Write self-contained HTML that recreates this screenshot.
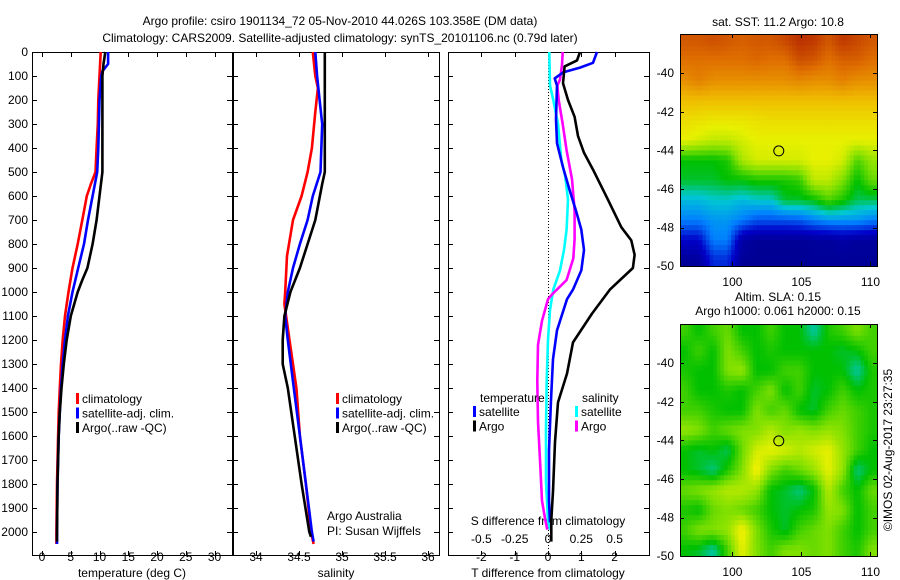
<!DOCTYPE html>
<html><head><meta charset="utf-8"><style>
body{margin:0;background:#fff}
svg{display:block;font-family:"Liberation Sans",sans-serif;font-size:12px}
</style></head><body>
<svg id="s" width="900" height="580" viewBox="0 0 900 580" xmlns="http://www.w3.org/2000/svg">
<defs>
<clipPath id="c1"><rect x="680" y="34" width="197" height="232"/></clipPath>
<clipPath id="c2"><rect x="680" y="324" width="197" height="232"/></clipPath>
</defs>
<text x="340" y="25" text-anchor="middle">Argo profile: csiro 1901134_72 05-Nov-2010 44.026S 103.358E (DM data)</text>
<text x="340" y="42" text-anchor="middle">Climatology: CARS2009. Satellite-adjusted climatology: synTS_20101106.nc (0.79d later)</text>
<text x="778" y="26" text-anchor="middle">sat. SST: 11.2 Argo: 10.8</text>
<text x="778" y="301" text-anchor="middle">Altim. SLA: 0.15</text>
<text x="778" y="315" text-anchor="middle">Argo h1000: 0.061 h2000: 0.15</text>
<text transform="translate(892,450) rotate(-90)" text-anchor="middle">©IMOS 02-Aug-2017 23:27:35</text>
<g id="g"></g>
</svg>
<script>
// ---- data ----
const depthTicks=[0,100,200,300,400,500,600,700,800,900,1000,1100,1200,1300,1400,1500,1600,1700,1800,1900,2000];
const tTicks=[0,5,10,15,20,25,30];
const sTicks=[34,34.5,35,35.5,36];
const tdTicks=[-2,-1,0,1,2];
const sdTicks=[-0.5,-0.25,0,0.25,0.5];
const sdTickLabels=["-0.5","-0.25","0","0.25","0.5"];
const tClimDepth=[0,100,200,300,400,500,550,600,700,800,900,1000,1100,1200,1300,1400,1500,1600,1800,2000,2050];
const tClim=[10.2,10.0,9.8,9.7,9.5,9.3,8.5,7.8,7.0,6.2,5.3,4.6,4.0,3.6,3.3,3.1,2.9,2.8,2.6,2.5,2.5];
const tSatDepth=[0,50,80,100,200,300,400,500,600,700,800,900,1000,1100,1200,1300,1400,1500,1600,1800,2000,2050];
const tSat=[11.5,11.5,10.5,10.3,10.0,9.9,9.8,9.6,8.8,8.0,7.3,6.3,5.3,4.5,4.0,3.6,3.3,3.1,2.9,2.7,2.6,2.6];
const tArgoDepth=[0,50,100,200,300,400,500,600,700,800,900,950,1000,1100,1200,1300,1400,1500,1600,1800,2000,2040];
const tArgo=[11.0,10.7,10.5,10.5,10.5,10.5,10.5,10.0,9.5,8.8,7.9,7.0,6.2,5.0,4.3,3.8,3.4,3.1,2.9,2.7,2.6,2.6];
const sClimDepth=[0,100,150,250,400,500,600,700,850,1000,1050,1200,1400,1600,1800,2000,2050];
const sClim=[34.66,34.69,34.72,34.69,34.65,34.6,34.53,34.43,34.36,34.34,34.33,34.39,34.47,34.51,34.58,34.64,34.67];
const sSatDepth=[0,100,200,300,500,600,700,800,900,1000,1100,1200,1400,1600,1800,2000,2040];
const sSat=[34.69,34.71,34.74,34.77,34.75,34.66,34.6,34.51,34.43,34.37,34.34,34.37,34.44,34.51,34.58,34.65,34.67];
const sArgoDepth=[0,300,500,550,700,800,900,1000,1100,1200,1300,1400,1600,1800,2000,2020];
const sArgo=[34.8,34.8,34.8,34.77,34.69,34.6,34.51,34.4,34.33,34.31,34.31,34.37,34.45,34.53,34.62,34.64];
const dTArgoDepth=[0,35,60,130,200,270,350,420,490,615,730,785,845,900,990,1090,1210,1340,1460,1625,1830,1950,2040];
const dTArgo=[0.96,0.87,0.5,0.45,0.6,0.8,0.9,1.08,1.35,1.8,2.2,2.5,2.6,2.55,1.86,1.32,0.75,0.57,0.3,0.21,0.15,0.1,0.1];
const dTSatDepth=[0,45,65,85,110,140,280,380,480,575,670,740,825,910,990,1030,1160,1280,1450,1660,1870,1960];
const dTSat=[1.47,1.35,0.96,0.45,0.2,0.27,0.24,0.27,0.45,0.65,0.86,1.0,1.08,1.0,0.75,0.57,0.27,0.15,0.09,0.03,0.03,0.06];
const dSSatDepth=[0,140,200,300,450,520,615,740,825,910,990,1075,1200,1370,1580,1790,1950,1990];
const dSSat=[0.01,0.015,0.04,0.075,0.1,0.13,0.15,0.14,0.12,0.09,0.04,0.015,0,-0.01,-0.015,-0.015,0,0.015];
const dSArgoDepth=[0,55,115,140,200,300,410,530,660,780,860,950,1010,1030,1120,1220,1370,1540,1700,1870,1950,1990];
const dSArgo=[0.11,0.105,0.09,0.07,0.08,0.11,0.14,0.18,0.2,0.2,0.19,0.14,0.03,0,-0.045,-0.075,-0.08,-0.075,-0.06,-0.045,-0.02,-0.005];
const lonTicks=[100,105,110];
const latTicks=[-40,-42,-44,-46,-48,-50];
const sstGrid=[
[.93,.93,.94,.93,.92,.93,.93,.95,.98,.97,.93,.97,.95,.93],
[.9,.9,.9,.9,.9,.91,.9,.9,.94,.93,.9,.92,.92,.9],
[.86,.88,.86,.86,.86,.86,.86,.86,.87,.86,.86,.88,.86,.86],
[.8,.8,.8,.8,.8,.8,.8,.8,.8,.8,.8,.8,.8,.8],
[.74,.73,.72,.72,.72,.73,.74,.74,.74,.74,.74,.74,.74,.74],
[.7,.68,.66,.66,.68,.7,.7,.7,.7,.7,.7,.7,.7,.7],
[.5,.5,.5,.52,.64,.68,.68,.68,.68,.7,.7,.68,.56,.62],
[.48,.48,.48,.5,.5,.52,.52,.52,.54,.66,.66,.6,.5,.58],
[.38,.38,.4,.4,.38,.4,.4,.48,.48,.5,.56,.52,.46,.46],
[.3,.3,.33,.33,.3,.25,.25,.25,.26,.3,.33,.33,.33,.3],
[.15,.15,.3,.3,.08,.05,.05,.05,.05,.06,.06,.08,.06,.06],
[.05,.06,.2,.2,.05,.04,.04,.04,.04,.05,.05,.05,.05,.05]];
const slaGrid=[
[.55,.5,.55,.58,.5,.5,.55,.5,.5,.42,.52,.55,.6,.55],
[.5,.55,.5,.6,.55,.5,.52,.5,.5,.5,.5,.48,.5,.55],
[.52,.5,.5,.6,.62,.5,.5,.55,.55,.5,.5,.5,.42,.52],
[.55,.5,.5,.52,.5,.55,.6,.5,.55,.48,.5,.55,.5,.52],
[.55,.55,.52,.5,.5,.6,.55,.58,.5,.48,.55,.58,.55,.52],
[.62,.6,.55,.58,.6,.6,.65,.6,.62,.6,.62,.6,.55,.52],
[.5,.48,.5,.46,.58,.68,.7,.68,.65,.68,.7,.62,.55,.5],
[.5,.48,.44,.52,.6,.72,.6,.55,.58,.62,.7,.62,.44,.5],
[.58,.6,.62,.65,.65,.62,.5,.48,.44,.5,.65,.55,.5,.58],
[.52,.5,.58,.6,.58,.55,.5,.48,.5,.52,.62,.6,.5,.55],
[.55,.6,.6,.62,.72,.6,.52,.48,.55,.58,.6,.55,.5,.55],
[.5,.48,.42,.55,.7,.6,.55,.6,.6,.58,.6,.55,.52,.6]];
const argoLon=103.358, argoLat=-44.026;

// ---- scales ----
const yD=d=>52+d*0.24;
const xT=t=>42+t*5.75;
const xS=s=>256+(s-34)*86;
const xTd=v=>548+v*33.3;
const xSd=v=>548+v*133.2;
const xLon=l=>680+(l-96.2)*13.8;
const yLat1=l=>34+(-37.97-l)*19.3;
const yLat2=l=>324+(-37.97-l)*19.3;

const NS="http://www.w3.org/2000/svg", G=document.getElementById('g');
function mk(tag,at,parent){const e=document.createElementNS(NS,tag);for(const k in at)e.setAttribute(k,at[k]);(parent||G).appendChild(e);return e;}
function txt(x,y,s,anchor,name){const e=mk('text',{x:x,y:y,'text-anchor':anchor||'start'});e.textContent=s;


return e;}

function line(depths,vals,xf,col,name){
  const pts=depths.map((d,i)=>xf(vals[i]).toFixed(1)+','+yD(d).toFixed(1)).join(' ');
  const e=mk('polyline',{points:pts,fill:'none',stroke:col,'stroke-width':2.6,'stroke-linejoin':'round'});
  
  
}

function panel(x0,x1,name){
  const r=mk('rect',{x:x0+.5,y:52.5,width:x1-x0,height:503,fill:'none',stroke:'#000','stroke-width':1});
  
  
  depthTicks.forEach(d=>{const y=yD(d)+.5;mk('line',{x1:x0,x2:x0+5,y1:y,y2:y,stroke:'#000'});mk('line',{x1:x1-5,x2:x1,y1:y,y2:y,stroke:'#000'});});
}
function xticks(vals,xf){vals.forEach(v=>{const x=Math.round(xf(v))+.5;mk('line',{x1:x,x2:x,y1:52,y2:57,stroke:'#000'});mk('line',{x1:x,x2:x,y1:551,y2:556,stroke:'#000'});});}

panel(32,232,'temperature-panel');
panel(233,439,'salinity-panel');
panel(448,649,'difference-panel');
depthTicks.forEach(d=>txt(28,yD(d)+4,String(d),'end','depth-tick-label'));
xticks(tTicks,xT);xticks(sTicks,xS);xticks(tdTicks,xTd);
tTicks.forEach(t=>txt(xT(t),561,String(t),'middle','temperature-tick-label'));
sTicks.forEach(s=>txt(xS(s),561,String(s),'middle','salinity-tick-label'));
tdTicks.forEach(t=>txt(xTd(t),561,String(t),'middle','t-diff-tick-label'));
sdTicks.forEach((s,i)=>txt(xSd(s),543,sdTickLabels[i],'middle','s-diff-tick-label'));
txt(132,577,'temperature (deg C)','middle','temperature-axis-title');
txt(336,577,'salinity','middle','salinity-axis-title');
txt(548,577,'T difference from climatology','middle','t-diff-axis-title');
txt(548,525,'S difference from climatology','middle','s-diff-axis-title');
mk('line',{x1:548.5,x2:548.5,y1:53,y2:555,stroke:'#000','stroke-dasharray':'1,2'});

line(tClimDepth,tClim,xT,'#ff0000','temp-climatology-line');
line(tSatDepth,tSat,xT,'#0000ff','temp-satellite-line');
line(tArgoDepth,tArgo,xT,'#000000','temp-argo-line');
line(sClimDepth,sClim,xS,'#ff0000','sal-climatology-line');
line(sSatDepth,sSat,xS,'#0000ff','sal-satellite-line');
line(sArgoDepth,sArgo,xS,'#000000','sal-argo-line');
line(dSSatDepth,dSSat,xSd,'#00ffff','s-diff-satellite-line');
line(dSArgoDepth,dSArgo,xSd,'#ff00ff','s-diff-argo-line');
line(dTSatDepth,dTSat,xTd,'#0000ff','t-diff-satellite-line');
line(dTArgoDepth,dTArgo,xTd,'#000000','t-diff-argo-line');

function legend(x,y,items,name){items.forEach((it,i)=>{
  const b=mk('rect',{x:x-5,y:y+i*14.5-10,width:3,height:11,fill:it[1]});
  
  
  txt(x+1,y+i*14.5,it[0],'start',name+'-label');});}
legend(81,403,[['climatology','#ff0000'],['satellite-adj. clim.','#0000ff'],['Argo(..raw -QC)','#000']],'temp-legend');
legend(341,403,[['climatology','#ff0000'],['satellite-adj. clim.','#0000ff'],['Argo(..raw -QC)','#000']],'sal-legend');
txt(480,402,'temperature','start','diff-legend-heading-t');
txt(582,402,'salinity','start','diff-legend-heading-s');
legend(478,416,[['satellite','#0000ff'],['Argo','#000']],'t-diff-legend');
legend(580,416,[['satellite','#00ffff'],['Argo','#ff00ff']],'s-diff-legend');
txt(327,520,'Argo Australia','start','credit-line-1');
txt(327,535,'PI: Susan Wijffels','start','credit-line-2');

const stops=[[0,[0,0,128]],[.15,[0,0,200]],[.3,[0,128,255]],[.4,[0,200,210]],[.5,[0,192,0]],[.6,[128,224,0]],[.7,[232,240,0]],[.8,[240,190,0]],[.9,[224,112,0]],[1,[176,32,0]]];
function cmap(v){for(let i=1;i<stops.length;i++){if(v<=stops[i][0]){const a=stops[i-1],b=stops[i],f=(v-a[0])/(b[0]-a[0]);return 'rgb('+a[1].map((c,j)=>Math.round(c+(b[1][j]-c)*f)).join(',')+')';}}return 'rgb(176,32,0)';}

function sample(grid,fr,fc){
  const rows=grid.length,cols=grid[0].length;
  fr=Math.min(rows-1,Math.max(0,fr));fc=Math.min(cols-1,Math.max(0,fc));
  const r0=Math.floor(fr),c0=Math.floor(fc),r1=Math.min(rows-1,r0+1),c1=Math.min(cols-1,c0+1);
  const a=fr-r0,b=fc-c0;
  return grid[r0][c0]*(1-a)*(1-b)+grid[r0][c1]*(1-a)*b+grid[r1][c0]*a*(1-b)+grid[r1][c1]*a*b;
}
function map(grid,yLat,clip,name,y0){
  const cg=mk('g',{'clip-path':'url(#'+clip+')'});
  const rows=grid.length,cols=grid[0].length;
  const lonW=14.6/cols, latH=12.4/rows, sub=4;
  for(let r=0;r<rows*sub;r++)for(let c=0;c<cols*sub;c++){
    const fr=(r+0.5)/sub-0.5, fc=(c+0.5)/sub-0.5;
    const lon=96.0+c*lonW/sub, lat=-37.8-r*latH/sub;
    const x=xLon(lon),y=yLat(lat);
    const e=mk('rect',{x:x.toFixed(1),y:y.toFixed(1),width:(lonW/sub*13.8+0.6).toFixed(1),height:(latH/sub*19.3+0.6).toFixed(1),fill:cmap(sample(grid,fr,fc))},cg);
    
    
  }
  const b=mk('rect',{x:680.5,y:y0+.5,width:197,height:232,fill:'none',stroke:'#000'});
  
  
  lonTicks.forEach(l=>{const x=Math.round(xLon(l))+.5;mk('line',{x1:x,x2:x,y1:y0,y2:y0+4,stroke:'#000'});mk('line',{x1:x,x2:x,y1:y0+228,y2:y0+232,stroke:'#000'});
    txt(xLon(l),y0+252,String(l),'middle',name+'-lon-label');});
  latTicks.forEach(l=>{const y=Math.round(yLat(l))+.5;mk('line',{x1:680,x2:684,y1:y,y2:y,stroke:'#000'});mk('line',{x1:873,x2:877,y1:y,y2:y,stroke:'#000'});
    txt(674,yLat(l)+4,String(l),'end',name+'-lat-label');});
  const m=mk('circle',{cx:xLon(argoLon),cy:yLat(argoLat),r:5,fill:'none',stroke:'#000','stroke-width':1});
  
  
}
map(sstGrid,yLat1,'c1','sst-map',34);
map(slaGrid,yLat2,'c2','sla-map',324);
</script>
</body></html>
